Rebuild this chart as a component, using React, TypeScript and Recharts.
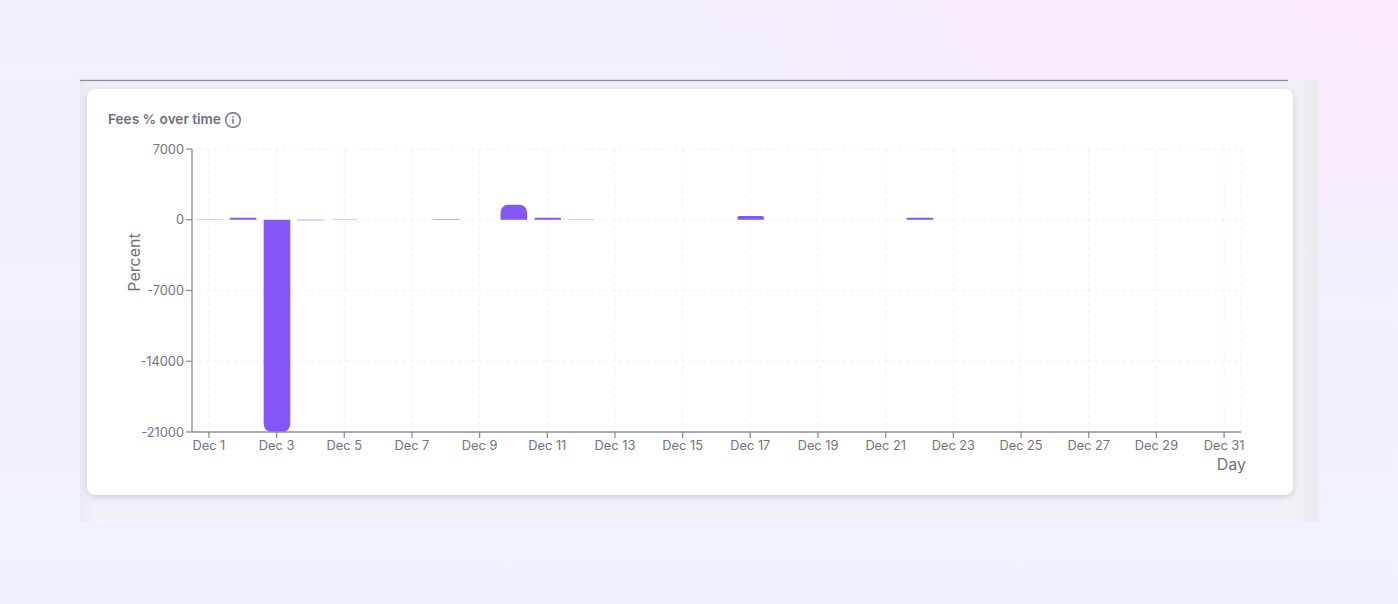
import React from 'react';
import { BarChart, Bar, XAxis, YAxis, CartesianGrid, Label } from 'recharts';

const days = [
  'Dec 1', 'Dec 2', 'Dec 3', 'Dec 4', 'Dec 5', 'Dec 6', 'Dec 7', 'Dec 8', 'Dec 9', 'Dec 10', 'Dec 11',
  'Dec 12', 'Dec 13', 'Dec 14', 'Dec 15', 'Dec 16', 'Dec 17', 'Dec 18', 'Dec 19', 'Dec 20', 'Dec 21',
  'Dec 22', 'Dec 23', 'Dec 24', 'Dec 25', 'Dec 26', 'Dec 27', 'Dec 28', 'Dec 29', 'Dec 30', 'Dec 31',
];
const feesPercent = [
  20, 210, -21000, -50, -20, 0, 0, 40, 0, 1480, 190,
  15, 0, 0, 0, 0, 370, 0, 0, 0, 0,
  210, 0, 0, 0, 0, 0, 0, 0, 0, 0,
];
const percentTicks = [7000, 0, -7000, -14000, -21000];

const chartData = days.map((day, i) => ({ day, fees: feesPercent[i] }));

const FONT = 'Inter, sans-serif';
const AXIS_COLOR = '#8f8c9b';
const TEXT_COLOR = '#74717f';

const App: React.FC = () => {
  return (
    <div
      style={{
        position: 'absolute',
        left: 0,
        top: 0,
        width: 1398,
        height: 604,
        overflow: 'hidden',
        fontFamily: FONT,
        background:
          'radial-gradient(700px 300px at 100% 0%, #fbe9fd 0%, rgba(251,233,253,0) 100%), linear-gradient(180deg, #f4effd 0%, #eff2fe 100%)',
      }}
    >
      {/* grey page area behind the card */}
      <div
        style={{
          position: 'absolute',
          left: 80,
          top: 80,
          width: 1238,
          height: 442,
          background: 'linear-gradient(90deg, #e9eaf1 0%, #f1f2f8 1%, #f1f2f8 98%, #e9eaf0 100%)',
        }}
      />
      <div
        style={{
          position: 'absolute',
          left: 80,
          top: 80,
          width: 1208,
          height: 1,
          background: '#8f8f98',
          boxShadow: '0 0 1.5px #8f8f98',
        }}
      />

      <div
        style={{
          position: 'absolute',
          left: 87,
          top: 89,
          width: 1206,
          height: 406,
          background: '#fff',
          borderRadius: 8,
          boxShadow: '0 2px 7px rgba(60,60,80,0.2)',
        }}
      />

      <div
        style={{
          position: 'absolute',
          left: 108,
          top: 111,
          fontSize: 13.6,
          lineHeight: '17px',
          fontWeight: 600,
          color: '#716e7c',
          whiteSpace: 'nowrap',
        }}
      >
        Fees % over time
      </div>
      <svg style={{ position: 'absolute', left: 224, top: 111 }} width={18} height={18} viewBox="0 0 18 18">
        <circle cx={9} cy={9} r={7.3} fill="none" stroke="#716e7c" strokeWidth={1.4} />
        <circle cx={9} cy={5.8} r={0.9} fill="#716e7c" />
        <rect x={8.3} y={7.8} width={1.4} height={5} fill="#716e7c" />
      </svg>

      <div style={{ position: 'absolute', left: 99.6, top: 140 }}>
        <BarChart
          width={1160}
          height={340}
          data={chartData}
          margin={{ top: 9, right: 19, bottom: 18, left: 32 }}
        >
          <CartesianGrid stroke="#eceef3" strokeDasharray="3 4" />
          <XAxis
            dataKey="day"
            interval={1}
            height={30}
            tickSize={6}
            tickMargin={3}
            stroke={AXIS_COLOR}
            strokeWidth={1.3}
            tick={{ fontSize: 12.8, fill: TEXT_COLOR, fontFamily: FONT }}
          >
            <Label
              value="Day"
              position="insideBottomRight"
              offset={-5}
              dy={3}
              style={{ fontSize: 16, fill: TEXT_COLOR, fontFamily: FONT }}
            />
          </XAxis>
          <YAxis
            width={60}
            domain={[-21000, 7000]}
            ticks={percentTicks}
            interval={0}
            tickSize={6}
            stroke={AXIS_COLOR}
            strokeWidth={1.3}
            tick={{ fontSize: 12.8, fill: TEXT_COLOR, fontFamily: FONT }}
          >
            <Label
              value="Percent"
              angle={-90}
              position="insideLeft"
              offset={2}
              dy={-28}
              style={{ fontSize: 16, fill: TEXT_COLOR, fontFamily: FONT, textAnchor: 'middle' }}
            />
          </YAxis>
          <Bar dataKey="fees" fill="#8257f6" barSize={26.6} radius={[8, 8, 0, 0]} isAnimationActive={false} />
        </BarChart>
      </div>
    </div>
  );
};

export default App;
